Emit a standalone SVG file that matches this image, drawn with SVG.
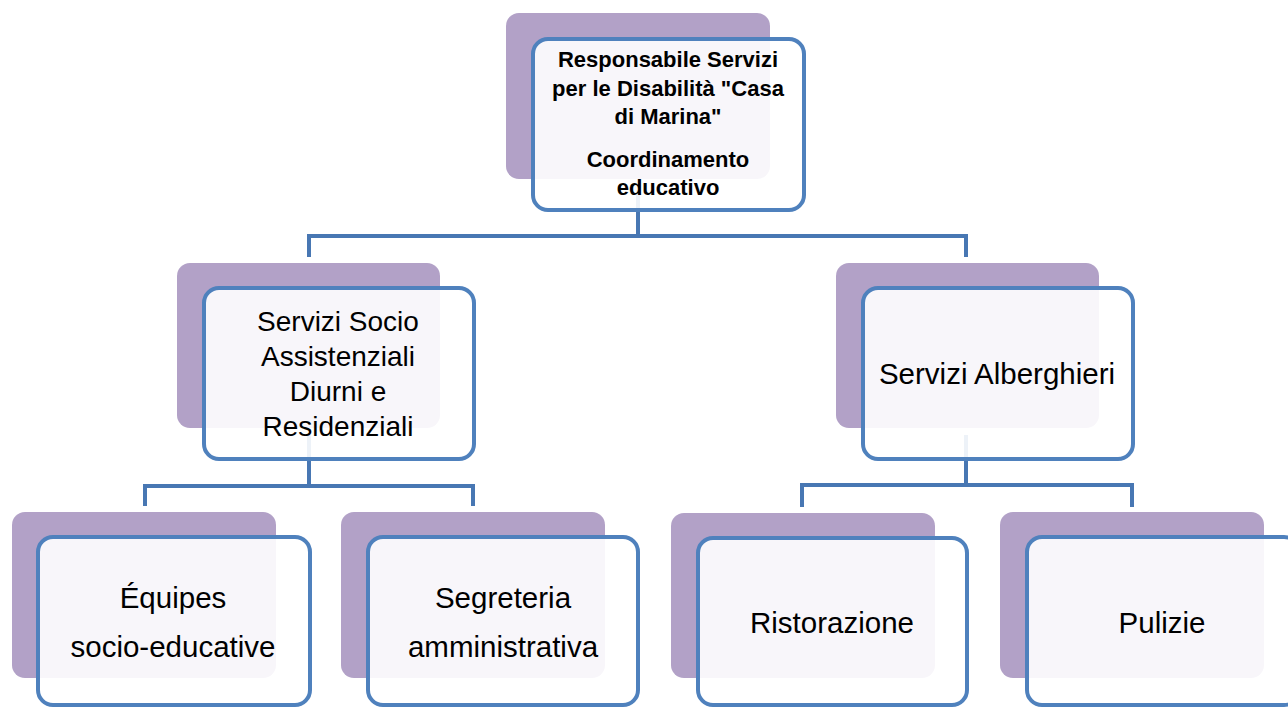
<svg xmlns="http://www.w3.org/2000/svg" width="1288" height="707" viewBox="0 0 1288 707">
<style>
.bg{fill:#b2a1c7}
.fr{fill:#ffffff;fill-opacity:0.9;stroke:#4f81bd;stroke-width:4}
.cn{fill:none;stroke:#4877b3;stroke-width:4}
.t{font-family:"Liberation Sans",Arial,sans-serif;font-size:28px;fill:#000;text-anchor:middle}
.t3{font-family:"Liberation Sans",Arial,sans-serif;font-size:29.5px;fill:#000;text-anchor:middle}
.tb{font-family:"Liberation Sans",Arial,sans-serif;font-size:22px;font-weight:bold;fill:#000;text-anchor:middle}
</style>
<rect width="1288" height="707" fill="#ffffff"/>
<g id="connectors">
<path class="cn" d="M638 190 V236 M309 236 H966 M309 234 V257 M966 234 V257"/>
<path class="cn" d="M309 435 V486 M145 486 H473 M145 484 V506 M473 484 V506"/>
<path class="cn" d="M966 435 V485 M802 485 H1132 M802 483 V507 M1132 483 V507"/>
</g>
<g id="n-top">
<rect class="bg" x="506" y="13" width="264" height="166" rx="13"/>
<rect class="fr" x="533" y="39" width="271" height="171" rx="15"/>
<text class="tb"><tspan x="668" y="67">Responsabile Servizi</tspan><tspan x="668" y="96">per le Disabilità "Casa</tspan><tspan x="668" y="124">di Marina"</tspan><tspan x="668" y="167">Coordinamento</tspan><tspan x="668" y="195">educativo</tspan></text>
</g>
<g id="n-socio">
<rect class="bg" x="177" y="263" width="263" height="165" rx="13"/>
<rect class="fr" x="204" y="288" width="270" height="171" rx="15"/>
<text class="t"><tspan x="338" y="331">Servizi Socio</tspan><tspan x="338" y="366">Assistenziali</tspan><tspan x="338" y="401">Diurni e</tspan><tspan x="338" y="436">Residenziali</tspan></text>
</g>
<g id="n-alberghieri">
<rect class="bg" x="836" y="263" width="263" height="165" rx="13"/>
<rect class="fr" x="863" y="288" width="270" height="171" rx="15"/>
<text class="t3" x="997" y="384">Servizi Alberghieri</text>
</g>
<g id="n-equipes">
<rect class="bg" x="12" y="512" width="264" height="166" rx="13"/>
<rect class="fr" x="38" y="537" width="272" height="168" rx="15"/>
<text class="t3"><tspan x="173" y="608">Équipes</tspan><tspan x="173" y="657">socio-educative</tspan></text>
</g>
<g id="n-segreteria">
<rect class="bg" x="341" y="512" width="264" height="166" rx="13"/>
<rect class="fr" x="368" y="537" width="270" height="168" rx="15"/>
<text class="t3"><tspan x="503" y="608">Segreteria</tspan><tspan x="503" y="657">amministrativa</tspan></text>
</g>
<g id="n-ristorazione">
<rect class="bg" x="671" y="513" width="264" height="165" rx="13"/>
<rect class="fr" x="698" y="538" width="269" height="167" rx="15"/>
<text class="t3" x="832" y="633">Ristorazione</text>
</g>
<g id="n-pulizie">
<rect class="bg" x="1000" y="512" width="264" height="166" rx="13"/>
<rect class="fr" x="1027" y="537" width="272" height="168" rx="15"/>
<text class="t3" x="1162" y="633">Pulizie</text>
</g>
</svg>
